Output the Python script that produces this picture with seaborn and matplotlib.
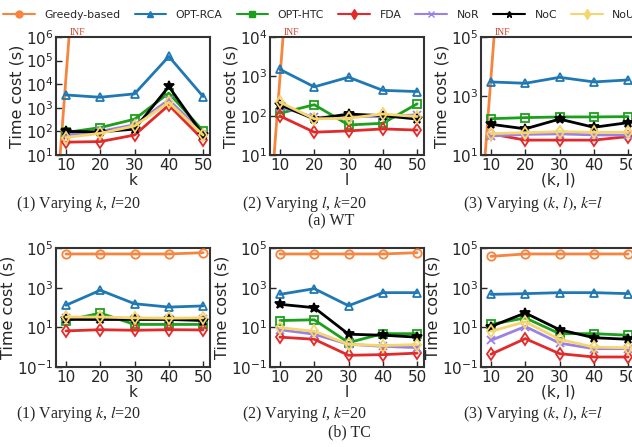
import matplotlib
matplotlib.use('Agg')
import matplotlib.pyplot as plt
from matplotlib.lines import Line2D
import numpy as np
import pandas as pd
import seaborn as sns

X = [10, 20, 30, 40, 50]
METHODS = ['Greedy-based', 'OPT-RCA', 'OPT-HTC', 'FDA', 'NoR', 'NoC', 'NoU']
COLORS = {
    'Greedy-based': '#f5853f',
    'OPT-RCA': '#1f78b4',
    'OPT-HTC': '#1ca01c',
    'FDA': '#e22a2a',
    'NoR': '#9b80e6',
    'NoC': '#000000',
    'NoU': '#f5d56e',
}
MARKERS = {
    'Greedy-based': 'o',
    'OPT-RCA': '^',
    'OPT-HTC': 's',
    'FDA': 'd',
    'NoR': 'x',
    'NoC': '*',
    'NoU': 'd',
}

# Greedy-based never finishes on WT: drawn as a steep line to "INF"
greedy_inf_x = [8.3, 10.9]

# WT, (1) varying k
wt_k = {
    'OPT-RCA': [3500, 2800, 3900, 150000, 3000],
    'OPT-HTC': [90, 145, 330, 4200, 105],
    'FDA': [35, 37, 70, 1300, 44],
    'NoR': [70, 100, 190, 2200, 80],
    'NoC': [100, 95, 125, 8000, 70],
    'NoU': [55, 83, 170, 1700, 70],
}
# WT, (2) varying l
wt_l = {
    'OPT-RCA': [1500, 540, 950, 440, 410],
    'OPT-HTC': [115, 190, 58, 64, 200],
    'FDA': [98, 38, 41, 46, 43],
    'NoR': [170, 90, 95, 95, 105],
    'NoC': [190, 82, 110, 100, 82],
    'NoU': [220, 83, 86, 110, 95],
}
# WT, (3) varying (k, l)
wt_kl = {
    'OPT-RCA': [3000, 2700, 4300, 3000, 3500],
    'OPT-HTC': [170, 185, 195, 195, 200],
    'FDA': [52, 32, 32, 32, 42],
    'NoR': [44, 50, 52, 48, 47],
    'NoC': [110, 77, 165, 87, 125],
    'NoU': [53, 57, 62, 59, 59],
}
# TC, (1) varying k
tc_k = {
    'Greedy-based': [50000, 50000, 50000, 50000, 58000],
    'OPT-RCA': [130, 740, 155, 105, 120],
    'OPT-HTC': [22, 52, 14, 14, 14],
    'FDA': [6.6, 7.6, 7.1, 7.6, 7.4],
    'NoR': [28, 25, 26, 25, 26],
    'NoC': [25, 25, 25, 25, 22],
    'NoU': [33, 33, 30, 29, 30],
}
# TC, (2) varying l
tc_l = {
    'Greedy-based': [50000, 50000, 50000, 50000, 58000],
    'OPT-RCA': [460, 890, 123, 560, 560],
    'OPT-HTC': [22, 24, 1.7, 4.8, 4.8],
    'FDA': [3.2, 2.5, 0.39, 0.42, 0.5],
    'NoR': [7.6, 4.5, 1.4, 1.1, 0.95],
    'NoC': [145, 98, 4.5, 4.0, 3.2],
    'NoU': [9.6, 6.3, 1.4, 1.2, 1.35],
}
# TC, (3) varying (k, l)
tc_kl = {
    'Greedy-based': [38000, 50000, 50000, 50000, 50000],
    'OPT-RCA': [460, 500, 560, 560, 500],
    'OPT-HTC': [14, 30, 4.8, 4.8, 4.0],
    'FDA': [0.44, 2.7, 0.47, 0.32, 0.32],
    'NoR': [2.2, 11, 1.6, 0.84, 0.84],
    'NoC': [11, 53, 7.6, 3.0, 2.5],
    'NoU': [6.3, 19, 2.5, 1.0, 0.93],
}

PANELS = [
    # data, xlabel, ylim, yticks, caption
    (wt_k, 'k', (10, 1e6), [1e1, 1e2, 1e3, 1e4, 1e5, 1e6], r'(1) Varying $k$, $l$=20'),
    (wt_l, 'l', (10, 1e4), [1e1, 1e2, 1e3, 1e4], r'(2) Varying $l$, $k$=20'),
    (wt_kl, '(k, l)', (10, 1e5), [1e1, 1e3, 1e5], r'(3) Varying $(k,\,l)$, $k$=$l$'),
    (tc_k, 'k', (0.1, 1e5), [1e-1, 1e1, 1e3, 1e5], r'(1) Varying $k$, $l$=20'),
    (tc_l, 'l', (0.1, 1e5), [1e-1, 1e1, 1e3, 1e5], r'(2) Varying $l$, $k$=20'),
    (tc_kl, '(k, l)', (0.1, 1e5), [1e-1, 1e1, 1e3, 1e5], r'(3) Varying $(k,\,l)$, $k$=$l$'),
]

sns.set_style('ticks')
plt.rcParams['font.family'] = ['DejaVu Sans']
plt.rcParams['mathtext.fontset'] = 'stix'
plt.rcParams['xtick.direction'] = 'in'
plt.rcParams['ytick.direction'] = 'in'

fig = plt.figure(figsize=(6.32, 4.47), dpi=100)

lefts = [56, 270, 481]
rows = [(37, 155), (248, 367)]
cap_x = [16, 242, 463]
cap_y = [204, 414]

for i, (data, xlabel, ylim, yticks, caption) in enumerate(PANELS):
    r, c = divmod(i, 3)
    top, bottom = rows[r]
    ax = fig.add_axes([lefts[c] / 632, 1 - bottom / 447, 154 / 632, (bottom - top) / 447])
    for m in METHODS:
        if m not in data:
            continue
        df = pd.DataFrame({'x': X, 'y': data[m]})
        filled = m == 'NoC'
        sns.lineplot(data=df, x='x', y='y', ax=ax, color=COLORS[m], marker=MARKERS[m],
                     markersize=6 if m != 'NoC' else 7.5, lw=2,
                     markerfacecolor=COLORS[m] if filled else 'none',
                     markeredgecolor=COLORS[m], markeredgewidth=1.3, zorder=3)
    ax.set_yscale('log')
    if r == 0:
        df = pd.DataFrame({'x': greedy_inf_x, 'y': [ylim[0], ylim[1]]})
        sns.lineplot(data=df, x='x', y='y', ax=ax, color=COLORS['Greedy-based'], lw=2)
        ax.text(11, ylim[1], 'INF', color='#d0402a', fontsize=7, family='Liberation Serif',
                ha='left', va='bottom', clip_on=False)
    ax.set_xlim(7.1, 52)
    ax.set_ylim(*ylim)
    ax.set_yticks(yticks)
    ax.minorticks_off()
    ax.set_xticks(X)
    ax.set_xlabel(xlabel, fontsize=11, labelpad=0)
    ax.set_ylabel('Time cost (s)', fontsize=11.5, labelpad=1)
    ax.tick_params(labelsize=11, length=4, width=1, pad=2)
    for s in ax.spines.values():
        s.set_linewidth(1.5)
        s.set_color('#333333')
    fig.text(cap_x[c] / 632, 1 - cap_y[r] / 447, caption, fontsize=11.5,
             family='Liberation Serif', ha='left', va='center')

fig.text(331 / 632, 1 - 221 / 447, '(a) WT', fontsize=11.5, family='Liberation Serif',
         ha='center', va='center')
fig.text(349 / 632, 1 - 432 / 447, '(b) TC', fontsize=11.5, family='Liberation Serif',
         ha='center', va='center')

handles = [Line2D([], [], color=COLORS[m], marker=MARKERS[m], lw=1.5, markersize=5)
           for m in METHODS]
fig.legend(handles, METHODS, loc='center left', bbox_to_anchor=(0.005, 1 - 15 / 447),
           ncol=7, frameon=False, fontsize=7.8, handlelength=2.9, handletextpad=0.9,
           columnspacing=1.3, borderaxespad=0, borderpad=0)

fig.savefig('out.png', dpi=100)
